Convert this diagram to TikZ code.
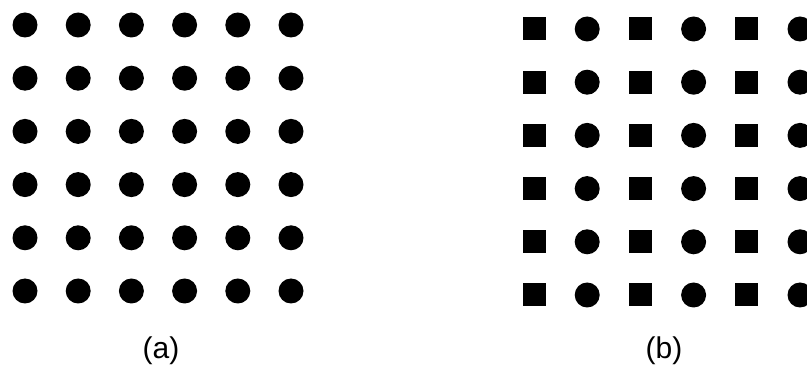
\documentclass[tikz,border=0pt]{standalone}
\usepackage{fontspec}
\setmainfont{Liberation Sans}
\begin{document}
\begin{tikzpicture}[x=1pt,y=1pt,
  dot/.style={circle,fill=black,draw=none,inner sep=0pt,minimum size=25pt},
  sq/.style={rectangle,fill=black,draw=none,inner sep=0pt,minimum size=23pt},
  lbl/.style={anchor=base,inner sep=0pt,font=\fontsize{30}{36}\selectfont}]
\useasboundingbox (0,0) rectangle (807,367);
% grid (a)
\foreach \i in {0,...,5}{
  \foreach \j in {0,...,5}{
    \node[dot] (a-\i-\j) at ({25+53.2*\i},{367-(25+53.2*\j)}) {};
  }
}
% grid (b)
\foreach \i in {0,2,4}{
  \foreach \j in {0,...,5}{
    \node[sq] (b-\i-\j) at ({534+53.2*\i},{367-(29+53.2*\j)}) {};
  }
}
\foreach \i in {1,3,5}{
  \foreach \j in {0,...,5}{
    \node[dot] (b-\i-\j) at ({534+53.2*\i},{367-(29+53.2*\j)}) {};
  }
}
\node[lbl] (la) at (161,8) {(a)};
\node[lbl] (lb) at (664,8) {(b)};
\end{tikzpicture}
\end{document}
